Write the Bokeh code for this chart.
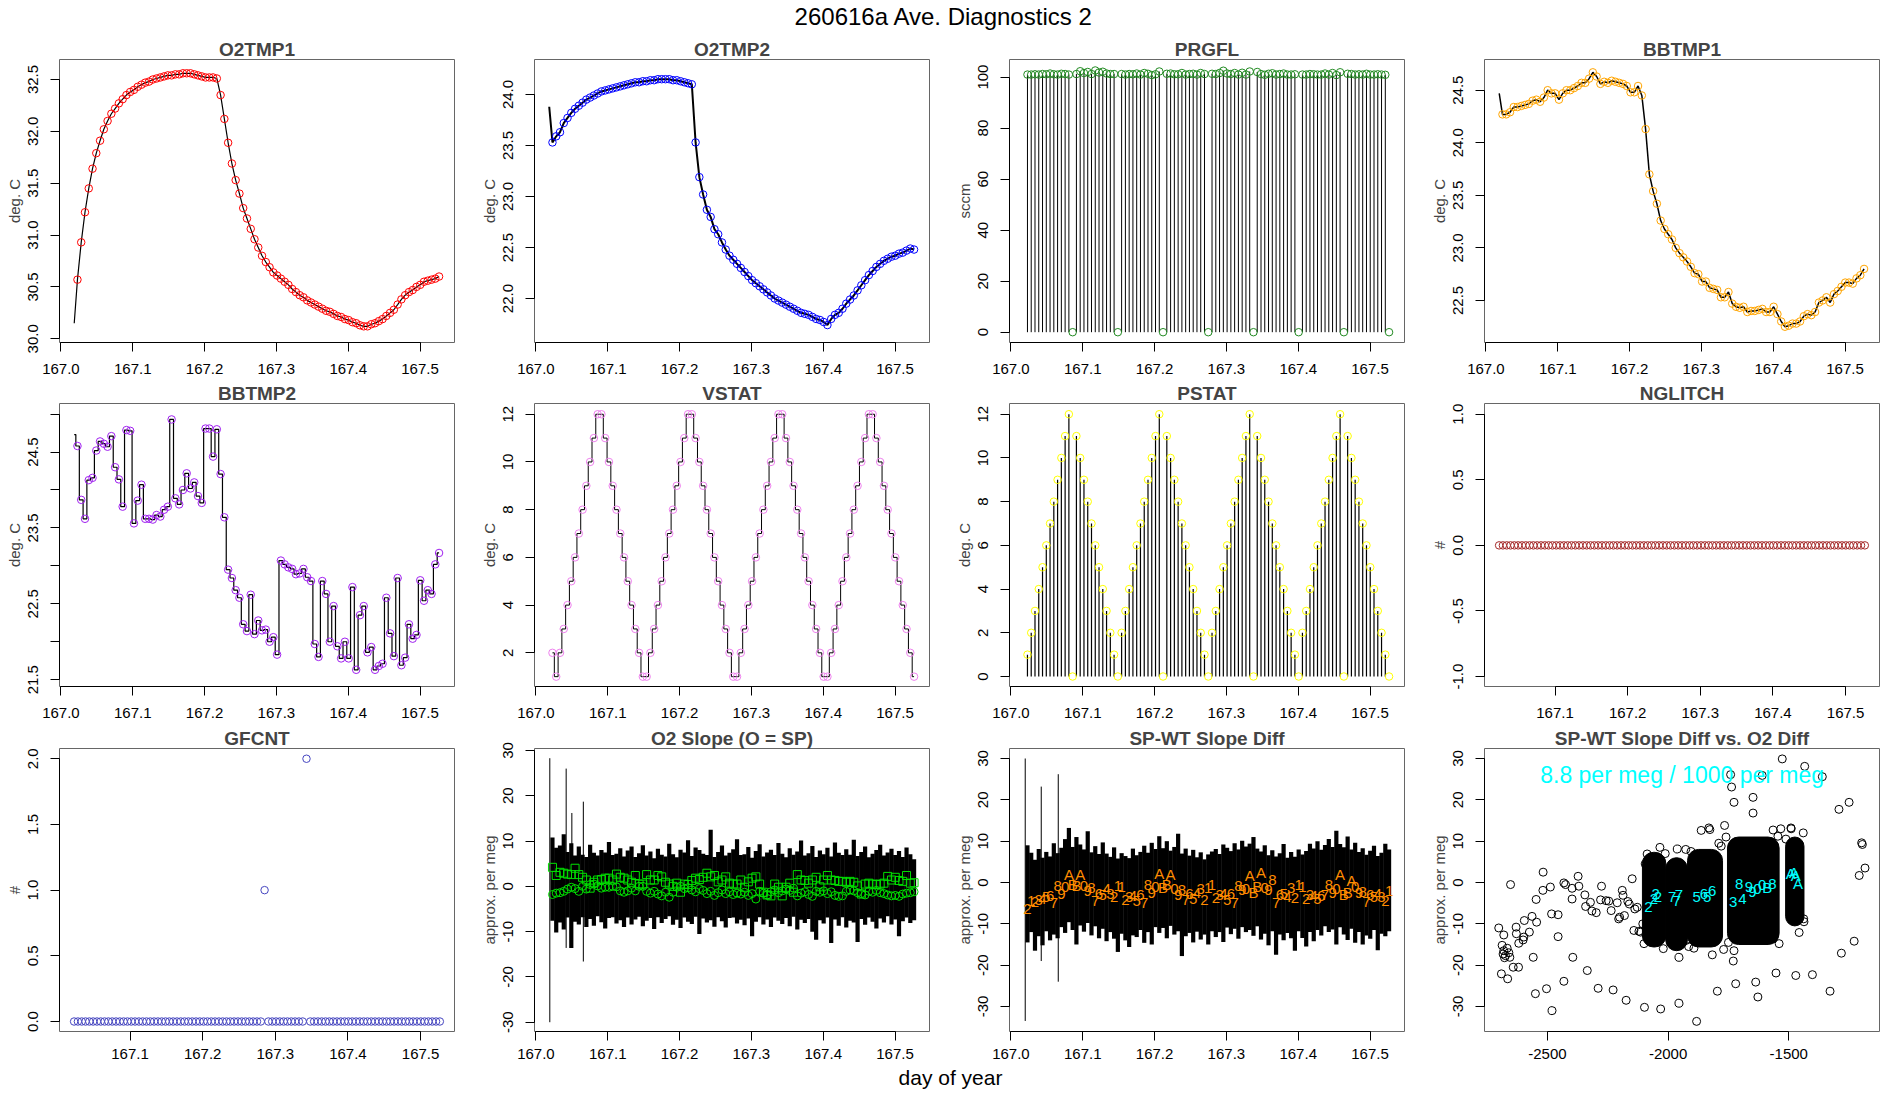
from bokeh.plotting import figure
from bokeh.layouts import column, row
from bokeh.models import Range1d, FixedTicker, PrintfTickFormatter, Label
from bokeh.embed import file_html
from bokeh.resources import INLINE
from bokeh.core.properties import value

FONT = "Liberation Sans"

MAIN_TITLE = "260616a   Ave. Diagnostics 2"
X_LABEL = "day of year"

# ---------------------------------------------------------------- data
# sample times (day of year), one sample per cycle
T0, DT, N = 167.0230, 0.005245, 97
t = [round(T0 + DT * i, 5) for i in range(N)]
RAW_START = 167.0185  # first raw reading

o2tmp1_start = 30.15
o2tmp1 = [30.57, 30.93, 31.22, 31.45, 31.64, 31.79, 31.91, 32.02, 32.10, 32.17,
          32.22, 32.27, 32.31, 32.35, 32.38, 32.40, 32.43, 32.45, 32.47, 32.48,
          32.50, 32.51, 32.52, 32.53, 32.54, 32.54, 32.55, 32.55, 32.56, 32.56,
          32.56, 32.55, 32.54, 32.53, 32.52, 32.52, 32.52, 32.51, 32.35, 32.12,
          31.89, 31.69, 31.53, 31.40, 31.26, 31.16, 31.06, 30.96, 30.88, 30.80,
          30.74, 30.69, 30.64, 30.61, 30.58, 30.55, 30.52, 30.48, 30.45, 30.42,
          30.40, 30.37, 30.35, 30.33, 30.31, 30.29, 30.27, 30.26, 30.24, 30.22,
          30.21, 30.19, 30.18, 30.16, 30.15, 30.13, 30.12, 30.12, 30.14, 30.15,
          30.17, 30.19, 30.22, 30.25, 30.28, 30.33, 30.38, 30.42, 30.45, 30.47,
          30.50, 30.52, 30.55, 30.56, 30.57, 30.58, 30.60]

o2tmp2_start = 23.88
o2tmp2 = [23.53, 23.59, 23.63, 23.72, 23.77, 23.82, 23.86, 23.89, 23.92, 23.95,
          23.97, 23.99, 24.01, 24.03, 24.04, 24.05, 24.06, 24.07, 24.08, 24.09,
          24.10, 24.11, 24.12, 24.12, 24.13, 24.13, 24.14, 24.14, 24.15, 24.15,
          24.15, 24.15, 24.14, 24.14, 24.13, 24.12, 24.11, 24.10, 23.53, 23.19,
          23.02, 22.87, 22.80, 22.68, 22.63, 22.55, 22.48, 22.42, 22.38, 22.34,
          22.30, 22.26, 22.22, 22.18, 22.15, 22.12, 22.09, 22.06, 22.03, 22.00,
          21.98, 21.96, 21.94, 21.92, 21.90, 21.88, 21.86, 21.85, 21.84, 21.82,
          21.80, 21.79, 21.77, 21.74, 21.80, 21.84, 21.86, 21.90, 21.95, 21.99,
          22.03, 22.08, 22.13, 22.18, 22.23, 22.27, 22.31, 22.34, 22.37, 22.39,
          22.41, 22.42, 22.44, 22.45, 22.47, 22.49, 22.48]

prgfl = [101.0, 101.0, 101.1, 101.0, 101.2, 101.1, 101.4, 101.1, 101.0, 101.3, 101.2, 101.0,
         0.0,
         101.2, 102.3, 101.6, 102.0, 101.2, 102.6, 101.8, 102.1, 101.4, 101.2, 101.2,
         0.0,
         101.2, 101.0, 101.2, 101.1, 101.4, 101.0, 101.6, 101.3, 100.8, 101.1, 102.2,
         0.0,
         101.3, 101.4, 101.1, 101.1, 101.6, 101.0, 101.2, 101.3, 101.0, 101.6, 101.2,
         0.0,
         101.3, 101.2, 101.6, 102.5, 101.4, 101.2, 101.6, 101.0, 101.7, 101.0, 102.2,
         0.0,
         102.0, 101.2, 100.9, 101.3, 101.5, 101.0, 101.2, 101.4, 101.0, 101.0, 101.1,
         0.0,
         101.0, 101.0, 101.2, 101.1, 101.0, 101.0, 101.4, 101.0, 101.6, 100.8, 101.9,
         0.0,
         101.3, 101.2, 101.0, 101.1, 101.0, 101.3, 101.0, 101.0, 101.1, 101.0, 100.9,
         0.0]

bbtmp1_start = 24.47
bbtmp1 = [24.27, 24.27, 24.29, 24.34, 24.34, 24.35, 24.36, 24.37, 24.40, 24.41,
          24.39, 24.43, 24.50, 24.47, 24.47, 24.41, 24.47, 24.50, 24.50, 24.52,
          24.54, 24.57, 24.57, 24.61, 24.67, 24.63, 24.56, 24.58, 24.57, 24.59,
          24.58, 24.57, 24.56, 24.54, 24.48, 24.48, 24.54, 24.45, 24.13, 23.70,
          23.54, 23.42, 23.26, 23.18, 23.13, 23.08, 23.00, 22.95, 22.91, 22.87,
          22.82, 22.76, 22.75, 22.68, 22.68, 22.62, 22.61, 22.60, 22.53, 22.53,
          22.58, 22.47, 22.44, 22.43, 22.44, 22.39, 22.40, 22.40, 22.41, 22.42,
          22.39, 22.39, 22.44, 22.37, 22.30, 22.25, 22.26, 22.28, 22.28, 22.30,
          22.35, 22.37, 22.36, 22.39, 22.48, 22.50, 22.53, 22.48, 22.56, 22.59,
          22.63, 22.67, 22.67, 22.66, 22.71, 22.74, 22.80]

bbtmp2_start = 24.73
bbtmp2 = [24.58, 23.87, 23.62, 24.13, 24.16, 24.52, 24.64, 24.61, 24.57, 24.71,
          24.30, 24.14, 23.78, 24.79, 24.78, 23.56, 23.86, 24.07, 23.62, 23.62,
          23.61, 23.67, 23.65, 23.74, 23.78, 24.93, 23.89, 23.81, 24.00, 24.22,
          24.02, 24.10, 23.92, 23.83, 24.81, 24.81, 24.44, 24.80, 24.21, 23.64,
          22.95, 22.84, 22.68, 22.58, 22.23, 22.14, 22.62, 22.10, 22.28, 22.15,
          22.16, 22.00, 22.06, 21.83, 23.07, 23.02, 22.98, 22.96, 22.89, 22.90,
          22.96, 22.85, 22.80, 21.97, 21.80, 22.80, 22.63, 22.00, 22.47, 21.94,
          21.78, 22.00, 21.78, 22.72, 21.63, 22.35, 22.47, 21.86, 21.93, 21.63,
          21.68, 21.71, 22.58, 22.11, 21.81, 22.84, 21.69, 21.79, 22.23, 22.04,
          22.09, 22.81, 22.54, 22.68, 22.63, 23.02, 23.17]

vstat = [2, 1, 2, 3, 4, 5, 6, 7, 8, 9, 10, 11, 12, 12, 11, 10, 9, 8, 7, 6, 5, 4, 3, 2, 1,
         1, 2, 3, 4, 5, 6, 7, 8, 9, 10, 11, 12, 12, 11, 10, 9, 8, 7, 6, 5, 4, 3, 2, 1,
         1, 2, 3, 4, 5, 6, 7, 8, 9, 10, 11, 12, 12, 11, 10, 9, 8, 7, 6, 5, 4, 3, 2, 1,
         1, 2, 3, 4, 5, 6, 7, 8, 9, 10, 11, 12, 12, 11, 10, 9, 8, 7, 6, 5, 4, 3, 2, 1]

pstat = [1, 2, 3, 4, 5, 6, 7, 8, 9, 10, 11, 12, 0, 11, 10, 9, 8, 7, 6, 5, 4, 3, 2, 1, 0,
         2, 3, 4, 5, 6, 7, 8, 9, 10, 11, 12, 0, 11, 10, 9, 8, 7, 6, 5, 4, 3, 2, 1, 0,
         2, 3, 4, 5, 6, 7, 8, 9, 10, 11, 12, 0, 11, 10, 9, 8, 7, 6, 5, 4, 3, 2, 1, 0,
         2, 3, 4, 5, 6, 7, 8, 9, 10, 11, 12, 0, 11, 10, 9, 8, 7, 6, 5, 4, 3, 2, 1, 0]

nglitch = [0] * N
gfcnt = [0] * 50 + [1] + [0] * 10 + [2] + [0] * 35

# O2 slope: raw spread (high/low per cycle), early spikes, square / circle averages
o2_hi = [10.8, 8.5, 9.0, 11.5, 7.6, 9.5, 6.8, 8.8, 7.0, 6.5,
         9.2, 7.4, 6.8, 8.0, 7.5, 9.8, 6.9, 7.2, 8.4, 6.6,
         7.9, 8.8, 6.5, 7.3, 9.1, 6.8, 7.7, 6.2, 8.3, 7.0,
         6.6, 9.4, 7.1, 6.4, 8.1, 7.5, 10.2, 6.7, 8.6, 8.0,
         7.2, 6.9, 12.5, 6.5, 7.6, 9.0, 6.8, 7.4, 8.2, 10.4,
         6.9, 7.1, 8.7, 6.3, 7.8, 9.3, 6.6, 7.5, 8.1, 6.9,
         9.6, 7.2, 6.4, 8.4, 7.0, 7.7, 10.1, 6.8, 7.3, 8.9,
         6.5, 7.9, 7.1, 8.5, 6.6, 9.7, 7.4, 6.9, 8.2, 7.0,
         10.3, 6.7, 7.6, 8.8, 6.4, 7.2, 8.0, 9.2, 6.8, 7.5,
         8.3, 6.9, 7.8, 6.5, 8.6, 7.1, 6.0]
o2_lo = [-7.6, -10.2, -8.0, -9.5, -6.9, -13.6, -7.8, -8.4, -6.8, -9.0,
         -7.2, -8.7, -6.6, -7.9, -9.3, -7.0, -6.8, -8.2, -7.5, -9.0,
         -6.9, -8.4, -7.3, -6.7, -8.8, -7.6, -7.0, -9.4, -6.8, -8.1,
         -7.2, -6.6, -8.5, -7.4, -9.2, -6.9, -7.8, -8.3, -6.7, -10.5,
         -7.1, -8.0, -7.5, -8.9, -6.8, -7.7, -9.1, -7.0, -6.9, -8.2,
         -7.4, -8.6, -7.1, -11.0, -7.8, -6.8, -8.4, -7.3, -9.0, -6.9,
         -7.6, -8.3, -7.0, -8.8, -6.7, -9.5, -7.4, -8.1, -7.2, -10.0,
         -11.8, -7.5, -8.2, -6.9, -12.5, -7.3, -8.7, -6.8, -9.1, -7.6,
         -8.0, -12.3, -7.2, -8.5, -6.9, -7.8, -9.3, -7.1, -8.0, -6.6,
         -8.4, -7.3, -11.0, -7.7, -6.9, -8.1, -7.5]
o2_spike_x = [167.0193, 167.0421, 167.0500, 167.0660]
o2_spike_top = [28.3, 26.0, 16.2, 18.7]
o2_spike_bot = [-30.0, -13.6, -10.0, -16.6]
o2_sq = [4.2, 2.4, 3.1, 2.9, 2.7, 2.6, 4.0, 2.6, 2.0, 1.4,
         -0.4, 0.9, 1.4, 1.5, 1.8, 1.8, 1.4, 2.7, 2.0, 1.8,
         1.4, 0.9, 2.4, 0.5, 0.5, 2.6, 1.4, 1.4, 2.4, 2.1,
         0.9, 0.5, 0.0, 0.7, -1.3, 0.5, 0.4, 1.3, 1.8, 1.5,
         2.0, 2.9, 2.1, 2.4, 1.0, 1.4, 2.1, 0.7, 0.5, 0.5,
         1.4, -0.2, 1.0, 1.8, 2.1, 0.5, -1.3, -1.9, -2.1, 0.5,
         -0.2, -2.1, -0.2, 0.7, -1.3, 2.6, 1.4, 1.3, 0.7, 1.4,
         2.0, -0.1, 1.4, 2.4, 1.4, 1.3, 1.1, 1.1, 0.9, 1.1,
         0.9, 0.1, -1.7, 0.5, 0.7, 0.5, 0.4, 0.5, 0.7, 2.2,
         1.4, 2.0, 1.3, 1.1, 2.4, 0.7, 0.8]
o2_ci = [-1.8, -1.5, -1.4, -1.1, -0.6, -0.2, -0.5, -1.1, 0.0, -0.6,
         0.4, 0.5, 0.1, -0.4, -0.2, -0.2, 0.0, -0.1, -1.0, -1.3,
         -1.0, -0.4, -1.0, 0.0, 0.0, -1.1, -1.5, -1.1, -1.7, -2.1,
         -1.3, -2.4, -1.3, -0.2, 0.0, -0.5, -0.3, -0.8, -1.2, -0.5,
         -0.9, -1.6, -1.1, -2.0, -1.4, -0.8, -1.6, -1.2, -1.8, -1.5,
         -1.7, -1.3, -2.0, -1.6, -2.8, -1.1, -1.5, -1.9, -1.2, -0.8,
         -1.4, -1.0, -0.6, -0.9, -0.4, -2.1, -1.5, -1.2, -1.8, -2.2,
         -1.1, -1.3, -1.0, -1.6, -1.2, -2.0, -2.2, -2.1, -1.1, -0.8,
         -1.0, -1.4, -1.6, -1.9, -1.1, -1.3, -0.9, -1.4, -1.6, -1.9,
         -2.1, -2.0, -2.2, -1.7, -1.5, -1.4, -1.2]

# SP-WT slope difference
sd_hi = [9.0, 7.2, 5.5, 8.1, 6.0, 7.4, 6.3, 9.5, 7.1, 8.4,
         10.5, 13.2, 8.6, 11.0, 9.2, 8.0, 12.4, 7.3, 8.8, 6.9,
         9.7, 7.0, 6.2, 8.5, 5.8, 7.1, 6.4, 5.9, 8.2, 6.6,
         7.4, 8.9, 7.2, 9.6, 8.1, 11.2, 8.3, 10.0, 7.7, 8.6,
         11.8, 7.0, 8.2, 6.5, 7.9, 6.1, 7.3, 5.6, 6.8, 7.5,
         8.1, 6.9, 9.2, 8.4, 7.6, 9.5, 8.0, 10.1, 8.7, 9.4,
         11.0, 8.2, 7.5, 9.0, 6.6, 7.8, 6.3, 7.1, 9.3, 6.0,
         7.4, 6.2, 8.0, 6.8, 7.6, 9.4, 8.2, 10.0, 7.9, 9.1,
         10.5, 8.6, 12.5, 9.3, 8.5, 11.1, 8.0, 9.6, 7.4, 8.3,
         6.7, 7.7, 8.9, 6.4, 7.2, 9.4, 8.0]
sd_lo = [-14.5, -12.0, -16.5, -13.0, -15.2, -11.8, -14.0, -12.6, -13.5, -10.8,
         -12.2, -9.6, -11.5, -15.0, -10.4, -11.9, -9.8, -12.8, -10.6, -13.5,
         -11.2, -14.2, -12.0, -13.6, -16.8, -12.4, -14.0, -15.6, -12.8, -13.2,
         -11.5, -14.6, -12.0, -15.0, -10.8, -12.2, -11.0, -13.5, -10.5, -12.6,
         -11.8, -17.8, -13.0, -12.2, -14.5, -11.9, -13.8, -12.6, -15.0, -11.8,
         -13.2, -12.0, -14.4, -10.9, -12.5, -11.2, -13.6, -10.8, -12.0, -11.5,
         -12.9, -10.6, -13.8, -12.4, -15.2, -11.8, -17.5, -12.6, -14.0, -12.2,
         -13.5, -16.5, -11.8, -13.4, -15.5, -12.0, -14.2, -11.5, -12.8, -10.6,
         -12.0, -11.4, -15.0, -10.8, -12.6, -13.9, -11.2, -14.6, -12.0, -15.0,
         -12.8, -13.6, -11.5, -16.4, -12.4, -13.0, -11.8]
sd_spike_x = [167.0199, 167.0422, 167.0659]
sd_spike_top = [30.0, 23.2, 26.2]
sd_spike_bot = [-33.5, -19.0, -24.0]
sd_mean = [-6.5, -4.5, -4.8, -4.2, -4.0, -3.5, -3.2, -5.0, -0.8, -2.7,
           -1.0, 2.0, -0.6, -0.8, 2.0, -0.9, -2.0, -1.3, -4.5, -2.8,
           -3.0, -1.6, -2.9, -3.6, -0.8, -1.2, -4.2, -3.5, -3.2, -4.5,
           -3.0, -5.0, -0.5, -2.5, -1.2, 2.2, -1.2, -0.5, 2.0, -1.5,
           -3.0, -1.8, -4.3, -2.9, -4.0, -2.5, -1.6, -4.2, -1.4, -0.6,
           -3.8, -3.0, -2.8, -4.2, -2.9, -5.0, -0.9, -1.8, -1.5, 1.6,
           -2.5, -1.0, 2.3, -1.3, -1.8, 0.5, -5.0, -3.0, -2.8, -3.5,
           -1.3, -3.8, -0.5, -1.0, -4.0, -3.0, -3.3, -4.0, -3.2, -3.0,
           -0.6, -2.6, -1.5, 2.0, -2.8, -2.5, 0.4, -1.0, -2.6, -2.4,
           -4.8, -3.0, -3.6, -2.8, -3.5, -4.5, -2.0]
STATE_CHAR = {1: "1", 2: "2", 3: "3", 4: "4", 5: "5", 6: "6", 7: "7", 8: "8",
              9: "9", 10: "0", 11: "A", 12: "B"}
sd_char = [STATE_CHAR[v] for v in vstat]

# slope diff vs O2 diff: dense clusters (centre, extent) and scattered points
blob_x = [-2058, -1965, -1847, -1647, -1475]
blob_y = [-4.15, -5.25, -3.8, -2.0, 0.25]
blob_w = [97, 90, 145, 214, 76]
blob_h = [22.9, 22.5, 23.6, 26.0, 21.5]
out_x = [-2702, -2681, -2688, -2681, -2684, -2674, -2678, -2667, -2660, -2691,
         -2665, -2656, -2653, -2642, -2620, -2630, -2629, -2619, -2598, -2601,
         -2596, -2575, -2564, -2559, -2550, -2547, -2545, -2519, -2518, -2504,
         -2488, -2481, -2483, -2456, -2456, -2432, -2425, -2432, -2398, -2398,
         -2395, -2373, -2370, -2345, -2342, -2335, -2322, -2316, -2298, -2290,
         -2280, -2276, -2257, -2246, -2236, -2228, -2211, -2205, -2201, -2190,
         -2187, -2181, -2174, -2167, -2161, -2149, -2142, -2138, -2128, -2121,
         -2114, -2098, -2031, -1955, -1955, -1882, -1893, -1796, -1817, -1766,
         -1741, -1737, -1727, -1730, -1720, -1648, -1648, -1637, -1628, -1610,
         -1553, -1527, -1471, -1434, -1402, -1361, -1329, -1292, -1282, -1250,
         -1229, -1208, -1198, -1195, -1184, -1863, -1831, -1827, -1533, -1491,
         -1490, -1565, -1727, -1564, -1457, -2087, -2034, -1962, -1927, -2100,
         -2095, -2020, -1915, -1905, -1790, -1770, -1760, -1545, -1440, -1437,
         -2105, -2012, -1925, -1780, -1750, -1540, -1512, -1438]
out_y = [-11.0, -12.7, -15.2, -16.5, -17.3, -17.7, -18.2, -15.9, -17.0, -22.1,
         -23.3, -18.1, -0.5, -20.5, -20.5, -10.8, -12.4, -14.7, -13.2, -13.9,
         -9.2, -12.0, -8.2, -18.1, -26.9, -4.1, -9.6, -1.9, 2.5, -25.7,
         -1.1, -31.0, -7.6, -7.8, -13.1, -0.1, -0.5, -23.9, -1.4, -4.0,
         -18.1, 1.5, -0.9, -3.0, -5.8, -21.3, -4.8, -6.9, -7.3, -25.6,
         -4.2, -0.9, -4.4, -4.5, -6.8, -26.0, -4.9, -8.8, -8.4, -1.9,
         -3.1, -8.0, -28.5, -4.6, -5.2, 0.9, -11.6, -6.4, -6.0, -11.8,
         -12.0, -30.2, -30.6, -29.2, -18.1, -33.6, -15.9, -26.3, -17.5, 13.8,
         26.1, 23.1, 19.4, -19.0, -24.5, 20.6, 16.8, -24.1, -27.7, 25.9,
         -21.9, 29.9, -22.5, 28.1, -22.3, 25.6, -26.3, 17.7, -17.1, 19.4,
         -14.2, 1.7, 9.6, 9.2, 3.5, 12.6, 13.2, 12.8, 13.0, 13.2,
         13.0, 12.7, -16.5, -13.6, -12.1, 6.9, 8.5, 8.1, 8.0, -14.8,
         4.5, -16.0, -15.5, 7.5, 9.5, -16.2, 11.0, 11.2, 12.0, -9.5,
         -10.0, 7.0, -14.0, 8.8, -14.5, -14.8, 10.5, -8.8]
cy_x = [-2082, -2052, -2042, -2059, -1983, -1965, -1955, -1882, -1852, -1838,
        -1817, -1730, -1692, -1706, -1665, -1630, -1589, -1568, -1651, -1610,
        -1492, -1471, -1462, -1478]
cy_y = [-6.0, -2.7, -3.5, -4.0, -3.5, -4.4, -3.1, -3.4, -2.7, -3.5,
        -2.1, -4.8, -4.0, -0.3, -1.1, -1.5, -1.1, -0.3, -2.3, -0.7,
        2.1, 1.7, -0.3, 2.3]
cy_t = ["2", "2", "2", "2", "7", "7", "7", "5", "6", "5",
        "6", "3", "4", "8", "9", "0", "B", "8", "9", "0",
        "A", "A", "A", "A"]
RATIO_TEXT = "8.8 per meg / 1000 per meg"

DAY_TICKS = [167.0, 167.1, 167.2, 167.3, 167.4, 167.5]
DAY_TICKS_B = [167.1, 167.2, 167.3, 167.4, 167.5]
XR_A = (166.998, 167.548)
XR_B = (167.0029, 167.5467)

# ---------------------------------------------------------------- helpers
FW, FH = 395, 283


def panel(title, xr, yr, xticks, yticks, ylabel, xfmt="%.1f", yfmt="%.1f",
          top=23, bottom=38, xstand=12, yminor=None):
    p = figure(frame_width=FW, frame_height=FH, x_range=Range1d(*xr), y_range=Range1d(*yr),
               output_backend="svg", toolbar_location=None,
               min_border_left=59, min_border_right=21, min_border_top=top,
               min_border_bottom=bottom, title=title,
               background_fill_color="white", border_fill_color="white")
    p.title.text_font = FONT
    p.title.text_font_size = "19px"
    p.title.text_font_style = "bold"
    p.title.align = "center"
    p.title.standoff = 0
    p.xgrid.visible = False
    p.ygrid.visible = False
    p.outline_line_color = "#666666"
    p.outline_line_width = 1
    for ax in (p.xaxis[0], p.yaxis[0]):
        ax.major_label_text_font = FONT
        ax.major_label_text_font_size = "15px"
        ax.major_label_text_color = "black"
        ax.axis_label_text_font = FONT
        ax.axis_label_text_font_size = "15px"
        ax.axis_label_text_font_style = "normal"
        ax.major_tick_in = 0
        ax.major_tick_out = 9
        ax.minor_tick_in = 0
        ax.minor_tick_out = 9
        ax.minor_tick_line_color = "black" if (ax is p.yaxis[0] and yminor) else None
        ax.axis_line_color = "black"
        ax.major_tick_line_color = "black"
    p.xaxis.ticker = FixedTicker(ticks=xticks)
    p.xaxis.formatter = PrintfTickFormatter(format=xfmt)
    p.xaxis.bounds = (min(xticks), max(xticks))
    p.xaxis.major_label_standoff = xstand
    if yminor:
        p.yaxis.ticker = FixedTicker(ticks=yticks, minor_ticks=yminor)
        p.yaxis.bounds = (min(yticks + yminor), max(yticks + yminor))
    else:
        p.yaxis.ticker = FixedTicker(ticks=yticks)
        p.yaxis.bounds = (min(yticks), max(yticks))
    p.yaxis.formatter = PrintfTickFormatter(format=yfmt)
    p.yaxis.major_label_orientation = "vertical"
    p.yaxis.major_label_standoff = 12
    p.yaxis.axis_label = ylabel
    p.yaxis.axis_label_standoff = 3
    return p


def circles(p, x, y, color, size=7.5):
    p.scatter(x, y, marker="circle", size=size, fill_color=None, line_color=color, line_width=1)


# ---------------------------------------------------------------- row 1
p1 = panel("O2TMP1", XR_A, (29.964, 32.693), DAY_TICKS, [30.0, 30.5, 31.0, 31.5, 32.0, 32.5],
           "deg. C")
p1.line([RAW_START] + t, [o2tmp1_start] + o2tmp1, color="black", line_width=1.2)
circles(p1, t, o2tmp1, "#FF0000")

p2 = panel("O2TMP2", XR_A, (21.569, 24.343), DAY_TICKS, [22.0, 22.5, 23.0, 23.5, 24.0],
           "deg. C")
p2.line([RAW_START] + t, [o2tmp2_start] + o2tmp2, color="black", line_width=2)
circles(p2, t, o2tmp2, "#0000FF")

p3 = panel("PRGFL", XR_A, (-4.04, 106.9), DAY_TICKS, [0, 20, 40, 60, 80, 100],
           "sccm", yfmt="%d")
p3.segment(x0=t, y0=[0] * N, x1=t, y1=prgfl, color="black", line_width=1)
circles(p3, t, prgfl, "#228B22")

p4 = panel("BBTMP1", XR_A, (22.10, 24.792), DAY_TICKS, [22.5, 23.0, 23.5, 24.0, 24.5],
           "deg. C")
p4.line([RAW_START] + t, [bbtmp1_start] + bbtmp1, color="black", line_width=1.5)
circles(p4, t, bbtmp1, "#FFA500")

# ---------------------------------------------------------------- row 2
p5 = panel("BBTMP2", XR_A, (21.41, 25.14), DAY_TICKS, [21.5, 22.5, 23.5, 24.5],
           "deg. C", yminor=[22.0, 23.0, 24.0, 25.0])
p5.step([RAW_START] + t, [bbtmp2_start] + bbtmp2, mode="center", color="black", line_width=1.2)
circles(p5, t, bbtmp2, "#A020F0")

p6 = panel("VSTAT", XR_A, (0.588, 12.45), DAY_TICKS, [2, 4, 6, 8, 10, 12], "deg. C", yfmt="%d")
p6.step(t, vstat, mode="center", color="black", line_width=1)
circles(p6, t, vstat, "#EE82EE")

p7 = panel("PSTAT", XR_A, (-0.457, 12.49), DAY_TICKS, [0, 2, 4, 6, 8, 10, 12], "deg. C", yfmt="%d")
p7.segment(x0=t, y0=[0] * N, x1=t, y1=pstat, color="black", line_width=1.2)
circles(p7, t, pstat, "#FFFF00")

p8 = panel("NGLITCH", XR_B, (-1.076, 1.0815), DAY_TICKS_B, [-1.0, -0.5, 0.0, 0.5, 1.0], "#")
circles(p8, t, nglitch, "#A52A2A")

# ---------------------------------------------------------------- row 3
R3 = dict(top=24, bottom=34, xstand=8)
p9 = panel("GFCNT", XR_B, (-0.076, 2.078), DAY_TICKS_B, [0.0, 0.5, 1.0, 1.5, 2.0], "#", **R3)
circles(p9, t, gfcnt, "#4646C0")

SLOPE_TICKS = [-30, -20, -10, 0, 10, 20, 30]
p10 = panel("O2 Slope (O = SP)", XR_A, (-32.05, 30.44), DAY_TICKS, SLOPE_TICKS,
            "approx. per meg", yfmt="%d", **R3)
p10.segment(x0=t, y0=o2_lo, x1=t, y1=o2_hi, color="black", line_width=4.2)
p10.segment(x0=o2_spike_x, y0=o2_spike_bot, x1=o2_spike_x, y1=o2_spike_top,
            color="black", line_width=1)
p10.scatter(t, o2_sq, marker="square", size=8, fill_color=None, line_color="#00E000", line_width=1)
p10.scatter(t, o2_ci, marker="circle", size=8, fill_color=None, line_color="#00E000", line_width=1)

p11 = panel("SP-WT Slope Diff", XR_A, (-36.05, 32.42), DAY_TICKS, SLOPE_TICKS,
            "approx. per meg", yfmt="%d", **R3)
p11.segment(x0=t, y0=sd_lo, x1=t, y1=sd_hi, color="black", line_width=4.2)
p11.segment(x0=sd_spike_x, y0=sd_spike_bot, x1=sd_spike_x, y1=sd_spike_top,
            color="black", line_width=1)
p11.text(x=t, y=sd_mean, text=sd_char, text_color="#FF8C00", text_font=value(FONT),
         text_font_size="15px", text_align="center", text_baseline="middle")

p12 = panel("SP-WT Slope Diff vs. O2 Diff", (-2761, -1124), (-36.05, 32.42),
            [-2500, -2000, -1500], SLOPE_TICKS, "approx. per meg", xfmt="%d", yfmt="%d", **R3)
blob_r = p12.rect(x=blob_x, y=blob_y, width=blob_w, height=blob_h,
                  fill_color="black", line_color="black")
try:
    blob_r.glyph.border_radius = 11
except Exception:
    p12.ellipse(x=blob_x, y=blob_y, width=blob_w, height=blob_h, fill_color="black",
                line_color="black")
    blob_r.glyph.height = [0.72 * h for h in blob_h]
p12.scatter(out_x, out_y, marker="circle", size=8, fill_color=None, line_color="black", line_width=1)
p12.text(x=cy_x, y=cy_y, text=cy_t, text_color="#00FFFF", text_font=value(FONT),
         text_font_size="15px", text_align="center", text_baseline="middle")
p12.add_layout(Label(x=-1942, y=26.1, text=RATIO_TEXT, text_align="center",
                     text_baseline="middle", text_color="#00FFFF", text_font=FONT,
                     text_font_size="23px"))


# ---------------------------------------------------------------- strips
def strip(h, text, y, size):
    s = figure(frame_width=1900, frame_height=h, x_range=Range1d(0, 1900), y_range=Range1d(0, h),
               output_backend="svg", toolbar_location=None, min_border=0,
               x_axis_type=None, y_axis_type=None, outline_line_color=None)
    s.add_layout(Label(x=950, y=y, text=text, text_align="center", text_baseline="middle",
                       text_font=FONT, text_font_size=size, text_color="black"))
    return s


top_strip = strip(36, MAIN_TITLE, 20, "24px")
bottom_strip = strip(35, X_LABEL, 23, "21px")

layout = column(top_strip,
                row(p1, p2, p3, p4),
                row(p5, p6, p7, p8),
                row(p9, p10, p11, p12),
                bottom_strip)

open("out.html", "w").write(file_html(layout, INLINE))
